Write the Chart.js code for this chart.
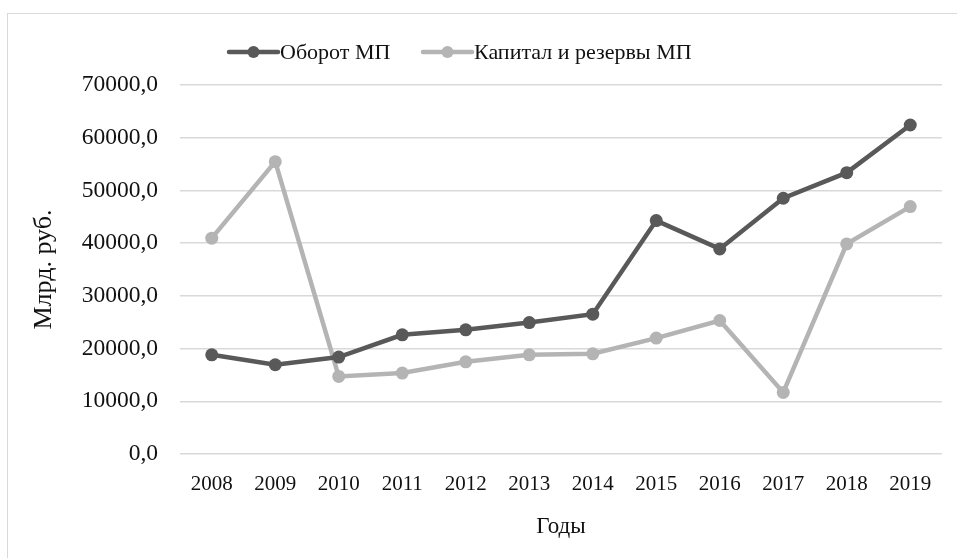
<!DOCTYPE html>
<html>
<head>
<meta charset="utf-8">
<script src="https://cdn.jsdelivr.net/npm/chart.js@4"></script>
<style>
  html, body { margin: 0; padding: 0; background: #fff; overflow: hidden; }
  #frame { position: absolute; left: 7px; top: 13px; width: 1000px; height: 1000px; border: 1.5px solid #d9d9d9; }
  #wrap { position: absolute; left: 0; top: 0; width: 957px; height: 558px; }
</style>
</head>
<body>
<div id="frame"></div>
<div id="wrap"><canvas id="myChart"></canvas></div>
<script>
// define constants
const COLOR_TURNOVER = "#595959";
const COLOR_CAPITAL = "#b4b4b4";
const FONT_FAMILY = "'Liberation Serif', 'Times New Roman', serif";
const TEXT_COLOR = "#111111";

// data
const years = ["2008", "2009", "2010", "2011", "2012", "2013", "2014", "2015", "2016", "2017", "2018", "2019"];
const turnover = [18820, 16930, 18390, 22610, 23560, 24940, 26530, 44280, 38910, 48520, 53370, 62410];
const capital = [40940, 55460, 14710, 15350, 17490, 18820, 19010, 21990, 25320, 11680, 39860, 46930];
const seriesNames = ["Оборот МП", "Капитал и резервы МП"];
const yTicks = [0, 10000, 20000, 30000, 40000, 50000, 60000, 70000];

// legend with a line + dot sample, like the spreadsheet one
const lineLegend = {
  id: 'lineLegend',
  afterDraw(chart) {
    const ctx = chart.ctx;
    const startX = [229, 423];
    const y = 52;
    ctx.save();
    chart.data.datasets.forEach((ds, i) => {
      const x0 = startX[i];
      ctx.strokeStyle = ds.borderColor;
      ctx.lineWidth = 4.5;
      ctx.lineCap = 'round';
      ctx.beginPath();
      ctx.moveTo(x0, y);
      ctx.lineTo(x0 + 49, y);
      ctx.stroke();
      ctx.fillStyle = ds.borderColor;
      ctx.beginPath();
      ctx.arc(x0 + 24.5, y, 6, 0, Math.PI * 2);
      ctx.fill();
      ctx.fillStyle = TEXT_COLOR;
      ctx.font = "22px " + FONT_FAMILY;
      ctx.textBaseline = 'middle';
      ctx.textAlign = 'left';
      ctx.fillText(ds.label, x0 + 51, y + 1);
    });
    ctx.restore();
  }
};

const ctx = document.getElementById("myChart").getContext("2d");
new Chart(ctx, {
  type: 'line',
  data: {
    labels: years,
    datasets: [
      {
        label: seriesNames[0],
        data: turnover,
        borderColor: COLOR_TURNOVER,
        backgroundColor: COLOR_TURNOVER,
        borderWidth: 4.5,
        pointRadius: 6.5,
        pointBorderWidth: 0,
        pointBackgroundColor: COLOR_TURNOVER,
        tension: 0,
      },
      {
        label: seriesNames[1],
        data: capital,
        borderColor: COLOR_CAPITAL,
        backgroundColor: COLOR_CAPITAL,
        borderWidth: 4.5,
        pointRadius: 6.5,
        pointBorderWidth: 0,
        pointBackgroundColor: COLOR_CAPITAL,
        tension: 0,
      },
    ],
  },
  options: {
    responsive: true,
    maintainAspectRatio: false,
    animation: false,
    layout: { padding: { top: 85, right: 15, left: 0, bottom: 0 } },
    plugins: {
      legend: { display: false },
      tooltip: { enabled: false },
    },
    scales: {
      x: {
        offset: true,
        grid: { display: false },
        border: { display: false },
        ticks: {
          color: TEXT_COLOR,
          font: { family: FONT_FAMILY, size: 21 },
          padding: 10,
          maxRotation: 0,
        },
        title: {
          display: true,
          text: "Годы",
          color: TEXT_COLOR,
          font: { family: FONT_FAMILY, size: 23 },
          padding: { top: 0, bottom: 17 },
        },
        afterFit(scale) { scale.height = 104; },
      },
      y: {
        min: 0,
        max: 70000,
        afterBuildTicks(scale) { scale.ticks = yTicks.map(v => ({ value: v })); },
        grid: { color: "#d9d9d9", lineWidth: 1.5, drawTicks: false },
        border: { display: false },
        ticks: {
          color: TEXT_COLOR,
          font: { family: FONT_FAMILY, size: 23.5 },
          padding: 22,
          callback: (val) => val.toFixed(1).replace('.', ','),
        },
        title: {
          display: true,
          text: "Млрд. руб.",
          color: TEXT_COLOR,
          font: { family: FONT_FAMILY, size: 26 },
          padding: { top: 29, bottom: 0 },
        },
        afterFit(scale) { scale.width = 180; },
      },
    },
  },
  plugins: [lineLegend],
});
</script>
</body>
</html>
